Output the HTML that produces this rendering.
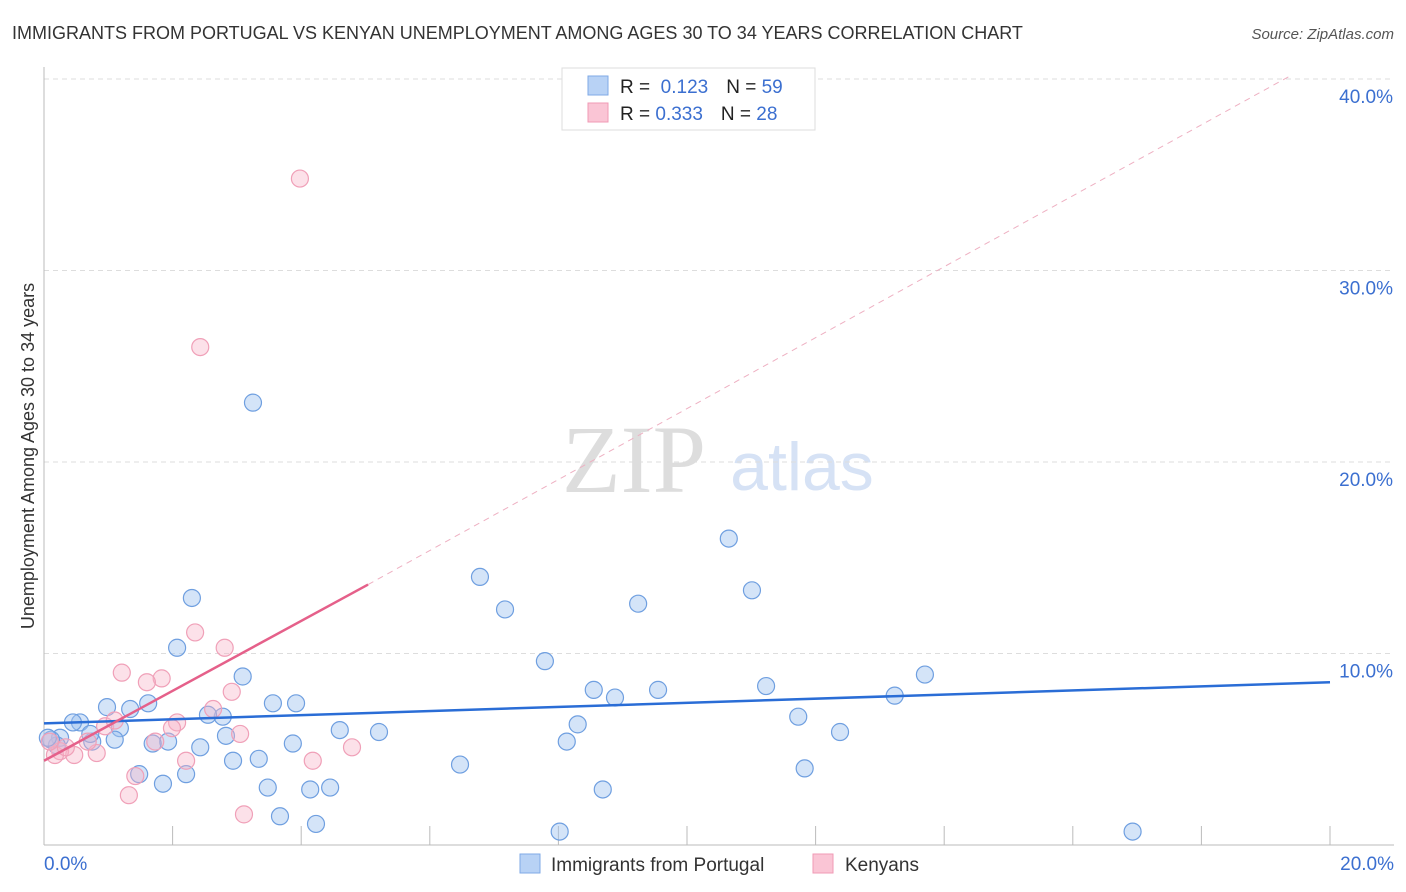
<!DOCTYPE html>
<html><head><meta charset="utf-8"><style>
body{margin:0;background:#fff;font-family:"Liberation Sans",sans-serif;}
svg{display:block}
</style></head><body>
<svg id="chart" width="1406" height="892">
<text x="12" y="39" font-size="18" fill="#333">IMMIGRANTS FROM PORTUGAL VS KENYAN UNEMPLOYMENT AMONG AGES 30 TO 34 YEARS CORRELATION CHART</text>
<text x="1394" y="39" font-size="15" fill="#555" text-anchor="end" font-style="italic">Source: ZipAtlas.com</text>
<text x="634" y="492" font-size="96" fill="#ddd" font-family="Liberation Serif,serif" text-anchor="middle">ZIP</text>
<text x="802" y="490" font-size="68" fill="#d6e2f5" text-anchor="middle">atlas</text>
<text transform="translate(34,456) rotate(-90)" font-size="18" fill="#333" text-anchor="middle">Unemployment Among Ages 30 to 34 years</text>
<g id="grid"></g><g id="pts"></g><g id="lines"></g>
<g>
<rect x="562" y="68" width="253" height="62" fill="#fff" stroke="#ddd"/>
<rect x="588" y="76" width="20" height="19" fill="#b8d2f5" stroke="#7fa9e6"/>
<rect x="588" y="103" width="20" height="19" fill="#fac5d5" stroke="#f09ab5"/>
<text x="620" y="93" font-size="19" fill="#222">R = <tspan fill="#3b6fd0">&#160;0.123</tspan><tspan dx="18">N = </tspan><tspan fill="#3b6fd0">59</tspan></text>
<text x="620" y="120" font-size="19" fill="#222">R = <tspan fill="#3b6fd0">0.333</tspan><tspan dx="18">N = </tspan><tspan fill="#3b6fd0">28</tspan></text>
</g>
<g>
<rect x="520" y="854" width="20" height="19" fill="#b8d2f5" stroke="#7fa9e6"/>
<text x="551" y="871" font-size="19" fill="#333">Immigrants from Portugal</text>
<rect x="813" y="854" width="20" height="19" fill="#fac5d5" stroke="#f09ab5"/>
<text x="845" y="871" font-size="19" fill="#333">Kenyans</text>
</g>
</svg>
<script>
const yTicks=[10,20,30,40];
const yTickLabels=["10.0%","20.0%","30.0%","40.0%"];
const xTicks=[0,2,4,6,8,10,12,14,16,18,20];
const xEndLabels=["0.0%","20.0%"];
const blueX=[3.25,2.3,2.07,6.78,7.17,10.65,11.01,9.24,7.79,8.55,8.88,9.55,11.23,13.7,13.23,11.73,12.38,8.3,8.13,6.47,8.69,11.83,8.02,16.93,5.21,4.6,3.92,3.56,3.09,2.78,2.55,2.83,2.94,3.34,3.87,3.48,4.14,4.45,4.23,3.67,2.43,2.21,1.85,1.48,1.93,1.69,1.62,1.34,1.18,1.1,0.98,0.56,0.45,0.25,0.75,0.2,0.11,0.06,0.72];
const blueY=[23.1,12.9,10.3,14.0,12.3,16.0,13.3,12.6,9.6,8.1,7.7,8.1,8.3,8.9,7.8,6.7,5.9,6.3,5.4,4.2,2.9,4.0,0.7,0.7,5.9,6.0,7.4,7.4,8.8,6.7,6.8,5.7,4.4,4.5,5.3,3.0,2.9,3.0,1.1,1.5,5.1,3.7,3.2,3.7,5.4,5.3,7.4,7.1,6.1,5.5,7.2,6.4,6.4,5.6,5.4,5.2,5.5,5.6,5.8];
const pinkX=[3.98,2.43,2.81,2.35,1.21,1.83,1.6,2.92,2.63,3.05,2.07,1.99,1.73,0.95,1.1,0.82,0.47,0.25,0.17,0.34,1.42,1.32,2.21,3.11,4.18,4.79,0.68,0.09];
const pinkY=[34.8,26.0,10.3,11.1,9.0,8.7,8.5,8.0,7.1,5.8,6.4,6.1,5.4,6.2,6.5,4.8,4.7,4.9,4.7,5.1,3.6,2.6,4.4,1.6,4.4,5.1,5.4,5.4];
const blueLine=[[0,6.35],[20,8.5]];
const pinkLine=[[0,4.4],[5.04,13.6]];
const pinkDash=[[5.04,13.6],[19.4,40.2]];
const X=v=>44+v*64.3, Y=v=>845-v*19.15;
const ns="http://www.w3.org/2000/svg";
function mk(tag,attrs,parent){const e=document.createElementNS(ns,tag);for(const k in attrs)e.setAttribute(k,attrs[k]);parent.appendChild(e);return e;}
const grid=document.getElementById('grid');
yTicks.forEach((t,i)=>{
 const l=mk('line',{x1:44,x2:1394,y1:Y(t),y2:Y(t),stroke:'#ddd','stroke-dasharray':'5,4'},grid);
 
 
 const tx=mk('text',{x:1393,y:Y(t)+24,'font-size':19,fill:'#3b6fd0','text-anchor':'end'},grid);
 tx.textContent=yTickLabels[i];
 
 
});
const ax=mk('line',{x1:44,x2:44,y1:67,y2:845,stroke:'#bbb'},grid);


const bx=mk('line',{x1:44,x2:1394,y1:845,y2:845,stroke:'#bbb'},grid);


xTicks.forEach(t=>{const l=mk('line',{x1:X(t),x2:X(t),y1:826,y2:845,stroke:'#bbb'},grid);
 
 });
[[0,'start',44],[20,'end',1394]].forEach((a,i)=>{const tx=mk('text',{x:a[2],y:870,'font-size':19,fill:'#3b6fd0','text-anchor':a[1]},grid);tx.textContent=xEndLabels[i];
 
 });
const pts=document.getElementById('pts');
blueX.forEach((x,i)=>{const c=mk('circle',{cx:X(x),cy:Y(blueY[i]),r:8.5,fill:'rgba(160,195,240,0.45)',stroke:'#6f9fe0','stroke-width':1.2},pts);
 
 });
pinkX.forEach((x,i)=>{const c=mk('circle',{cx:X(x),cy:Y(pinkY[i]),r:8.5,fill:'rgba(248,180,200,0.4)',stroke:'#f0a0b8','stroke-width':1.2},pts);
 
 });
const lines=document.getElementById('lines');
const b=mk('line',{x1:X(blueLine[0][0]),y1:Y(blueLine[0][1]),x2:X(blueLine[1][0]),y2:Y(blueLine[1][1]),stroke:'#2a6dd6','stroke-width':2.5},lines);


const p=mk('line',{x1:X(pinkLine[0][0]),y1:Y(pinkLine[0][1]),x2:X(pinkLine[1][0]),y2:Y(pinkLine[1][1]),stroke:'#e5608a','stroke-width':2.5},lines);


const d=mk('line',{x1:X(pinkDash[0][0]),y1:Y(pinkDash[0][1]),x2:X(pinkDash[1][0]),y2:Y(pinkDash[1][1]),stroke:'#eeb0c2','stroke-width':1,'stroke-dasharray':'6,5'},lines);


</script>
</body></html>
